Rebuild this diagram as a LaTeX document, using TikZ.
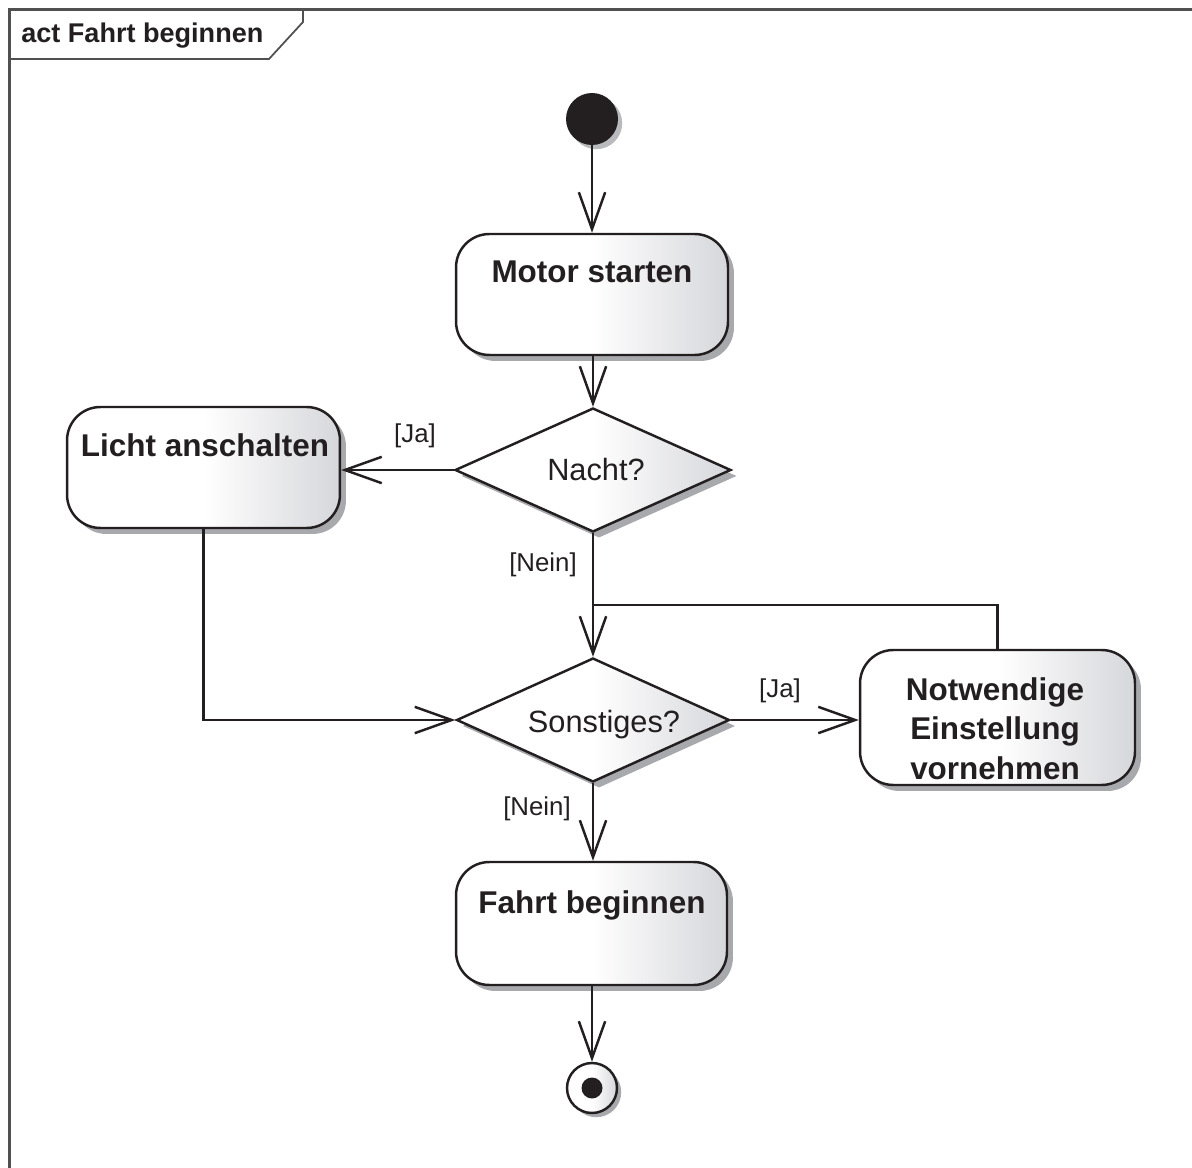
\documentclass[tikz,border=0pt]{standalone}
\usepackage{fontspec}
\setmainfont{Liberation Sans}
\usetikzlibrary{shapes.geometric,shadows,arrows.meta,calc}

\definecolor{ink}{RGB}{35,31,32}
\definecolor{shadeend}{RGB}{214,215,219}
\definecolor{shadowgray}{RGB}{168,169,173}
\definecolor{framegray}{RGB}{80,80,80}

% white on the left half, fading to light grey towards the right edge
\pgfdeclarehorizontalshading{actshade}{100bp}{color(0bp)=(white); color(50bp)=(white); color(75bp)=(shadeend); color(100bp)=(shadeend)}

\begin{document}
\begin{tikzpicture}[x=0.02cm, y=-0.02cm,
  color=ink,
  shadowed/.style={drop shadow={shadow xshift=3.4pt, shadow yshift=-3.4pt, fill=shadowgray, opacity=1}},
  actbox/.style={rectangle, rounded corners=19pt, draw=ink, line width=1.4pt,
    shading=actshade, inner sep=0pt, shadowed},
  decision/.style={diamond, draw=ink, line width=1.4pt, shading=actshade,
    inner sep=0pt, shadowed},
  boldtxt/.style={font=\fontsize{17.9}{22.6}\selectfont\bfseries, text=ink, inner sep=0pt},
  regtxt/.style={font=\fontsize{17.5}{21}\selectfont, text=ink, inner sep=0pt, anchor=base},
  guard/.style={font=\fontsize{14.7}{18}\selectfont, text=ink, inner sep=0pt, anchor=base},
  flow/.style={draw=ink, line width=1.4pt, -{Straight Barb[length=21pt, width=15pt]}},
  plain/.style={draw=ink, line width=1.4pt}
]
\useasboundingbox (0,0) rectangle (1192,1168);

% diagram frame and its name tab
\draw[framegray, line width=1.2pt] (1192,9.5) -- (9.5,9.5) -- (9.5,1168);
\draw[framegray, line width=1pt] (9.5,59) -- (269,59) -- (303,22) -- (303,9.5);
\node[font=\fontsize{15.4}{18}\selectfont\bfseries, text=ink, inner sep=0pt, anchor=base west] (title) at (21,43) {act Fahrt beginnen};

% initial and final nodes
\node[circle, fill=ink, minimum size=1.04cm, inner sep=0pt,
  drop shadow={shadow xshift=2.4pt, shadow yshift=-2.4pt, fill=shadowgray!80, opacity=1}] (start) at (592,119) {};
\node[circle, draw=ink, line width=1.4pt, shading=actshade, minimum size=1.0cm, inner sep=0pt,
  drop shadow={shadow xshift=2.4pt, shadow yshift=-2.4pt, fill=shadowgray, opacity=1}] (final) at (592,1088) {};
\node[circle, fill=ink, minimum size=0.42cm, inner sep=0pt] (finaldot) at (final.center) {};

% actions
\node[actbox, minimum width=5.44cm, minimum height=2.42cm] (motor) at (592,294.5) {};
\node[boldtxt, anchor=base] (motortext) at (592,283) {Motor starten};

\node[actbox, minimum width=5.46cm, minimum height=2.42cm] (licht) at (203.5,467.5) {};
\node[boldtxt, anchor=base] (lichttext) at (205,457) {Licht anschalten};

\node[actbox, minimum width=5.5cm, minimum height=2.7cm] (note) at (997.5,717.5) {};
\node[boldtxt, anchor=north, align=center] (notetext) at (995,677) {Notwendige\\Einstellung\\vornehmen};

\node[actbox, minimum width=5.42cm, minimum height=2.46cm] (fahrt) at (591.5,923.5) {};
\node[boldtxt, anchor=base] (fahrttext) at (592,913) {Fahrt beginnen};

% decisions
\node[decision, minimum width=5.52cm, minimum height=2.48cm] (nacht) at (593,470) {};
\node[regtxt] (nachttext) at (596,480) {Nacht?};

\node[decision, minimum width=5.46cm, minimum height=2.48cm] (sonst) at (593,720) {};
\node[regtxt] (sonsttext) at (604,732) {Sonstiges?};

% control flow
\coordinate (merge) at (593,605);
\draw[flow] (start.south) -- (motor.north);
\draw[flow] (motor.south -| nacht.north) -- (nacht.north);
\draw[flow] (nacht.west) -- (nacht.west -| licht.east);
\draw[flow] (nacht.south) -- (sonst.north);
\draw[plain] (note.north) |- (merge);
\draw[flow] (licht.south) |- (sonst.west);
\draw[flow] (sonst.east) -- (sonst.east -| note.west);
\draw[flow] (sonst.south) -- (sonst.south |- fahrt.north);
\draw[flow] (fahrt.south -| final.north) -- (final.north);

% guards
\node[guard] (g1) at (415,443) {[Ja]};
\node[guard] (g2) at (543,571) {[Nein]};
\node[guard] (g3) at (780,697) {[Ja]};
\node[guard] (g4) at (537,815) {[Nein]};
\end{tikzpicture}
\end{document}
